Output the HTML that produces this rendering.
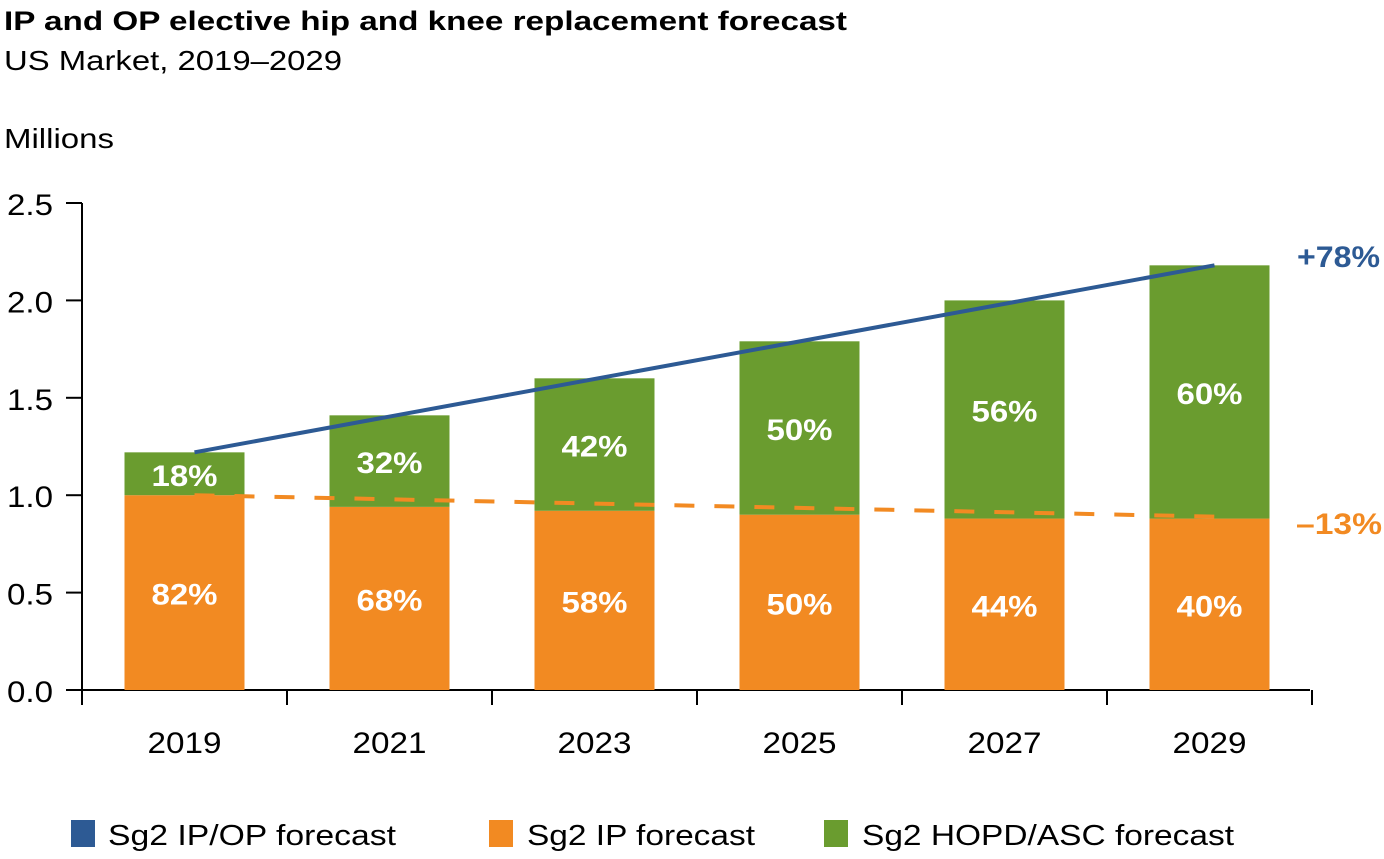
<!DOCTYPE html>
<html><head><meta charset="utf-8"><style>
body{margin:0;background:#fff;font-family:"Liberation Sans",Arial,sans-serif}
svg text{font-family:"Liberation Sans",Arial,sans-serif}
</style></head><body>
<svg id="chart" width="1384" height="854" xmlns="http://www.w3.org/2000/svg">
<text x="4" y="30" font-size="27" font-weight="bold" fill="#000" textLength="843" lengthAdjust="spacingAndGlyphs">IP and OP elective hip and knee replacement forecast</text>
<text x="4" y="70" font-size="28" fill="#000" textLength="338" lengthAdjust="spacingAndGlyphs">US Market, 2019–2029</text>
<text x="4" y="148" font-size="28" fill="#000" textLength="110" lengthAdjust="spacingAndGlyphs">Millions</text>
<g id="axes"></g><g id="bars"></g><g id="lines"></g>
<text x="1297" y="267" font-size="30" font-weight="bold" fill="#2d5a94" textLength="83" lengthAdjust="spacingAndGlyphs">+78%</text>
<text x="1296" y="534" font-size="30" font-weight="bold" fill="#f28a22" textLength="86" lengthAdjust="spacingAndGlyphs">–13%</text>
<g>
<rect x="71" y="820" width="24" height="27" fill="#2d5a94"/><text x="108" y="845" font-size="29" textLength="288" lengthAdjust="spacingAndGlyphs">Sg2 IP/OP forecast</text>
<rect x="489" y="820" width="24" height="27" fill="#f28a22"/><text x="527" y="845" font-size="29" textLength="228" lengthAdjust="spacingAndGlyphs">Sg2 IP forecast</text>
<rect x="824" y="820" width="24" height="27" fill="#6a9c2f"/><text x="862" y="845" font-size="29" textLength="372" lengthAdjust="spacingAndGlyphs">Sg2 HOPD/ASC forecast</text>
</g>
</svg>
<script>
const categories=["2019","2021","2023","2025","2027","2029"];
const ipValues=[1.00,0.94,0.92,0.90,0.88,0.88];
const totalValues=[1.22,1.41,1.60,1.79,2.00,2.18];
const ipLabels=["82%","68%","58%","50%","44%","40%"];
const opLabels=["18%","32%","42%","50%","56%","60%"];
const yTicks=[0,0.5,1.0,1.5,2.0,2.5];
const yTickLabels=["0.0","0.5","1.0","1.5","2.0","2.5"];
const lineStart=[1.22,1.00], lineEnd=[2.18,0.89];
const NS="http://www.w3.org/2000/svg";
const x0=82,x1=1310,yBase=690,pxU=194.8,step=205,barW=120;
const y=v=>yBase-v*pxU;
const xc=i=>x0+step/2+i*step;
function mk(t,a,p){const e=document.createElementNS(NS,t);for(const k in a)e.setAttribute(k,a[k]);p.appendChild(e);return e;}
const ax=document.getElementById('axes'),bg=document.getElementById('bars'),lg=document.getElementById('lines');
let e=mk('line',{x1:x0,y1:y(2.5),x2:x0,y2:705,stroke:'#000','stroke-width':2},ax);


e=mk('line',{x1:66,y1:yBase,x2:x1,y2:yBase,stroke:'#000','stroke-width':2},ax);


yTicks.forEach((v,i)=>{
 mk('line',{x1:66,y1:y(v),x2:x0,y2:y(v),stroke:'#000','stroke-width':2},ax);
 const t=mk('text',{x:53,y:y(v)+12,'font-size':30,'text-anchor':'end',textLength:46,lengthAdjust:'spacingAndGlyphs'},ax);t.textContent=yTickLabels[i];
 
 
});
for(let i=1;i<=categories.length;i++){mk('line',{x1:x0+i*step,y1:yBase,x2:x0+i*step,y2:705,stroke:'#000','stroke-width':2},ax);}
categories.forEach((c,i)=>{
 const t=mk('text',{x:xc(i),y:753,'font-size':30,'text-anchor':'middle',textLength:74,lengthAdjust:'spacingAndGlyphs'},ax);t.textContent=c;
 
 
 const r1=mk('rect',{x:xc(i)-barW/2,y:y(ipValues[i]),width:barW,height:ipValues[i]*pxU,fill:'#f28a22'},bg);
 
 
 const r2=mk('rect',{x:xc(i)-barW/2,y:y(totalValues[i]),width:barW,height:(totalValues[i]-ipValues[i])*pxU,fill:'#6a9c2f'},bg);
 
 
 const l1=mk('text',{x:xc(i),y:y(ipValues[i]/2)+12,'font-size':30,'font-weight':'bold',fill:'#fff','text-anchor':'middle',textLength:66,lengthAdjust:'spacingAndGlyphs'},bg);l1.textContent=ipLabels[i];
 
 
 const l2=mk('text',{x:xc(i),y:y((totalValues[i]+ipValues[i])/2)+12,'font-size':30,'font-weight':'bold',fill:'#fff','text-anchor':'middle',textLength:66,lengthAdjust:'spacingAndGlyphs'},bg);l2.textContent=opLabels[i];
 
 
});
const xa=xc(0)+10,xb=xc(categories.length-1)+5;
e=mk('line',{x1:xa,y1:y(lineStart[0]),x2:xb,y2:y(lineEnd[0]),stroke:'#2d5a94','stroke-width':4},lg);


e=mk('line',{x1:xa,y1:y(lineStart[1]),x2:xb,y2:y(lineEnd[1]),stroke:'#f28a22','stroke-width':4,'stroke-dasharray':'20 20'},lg);


</script>
</body></html>
